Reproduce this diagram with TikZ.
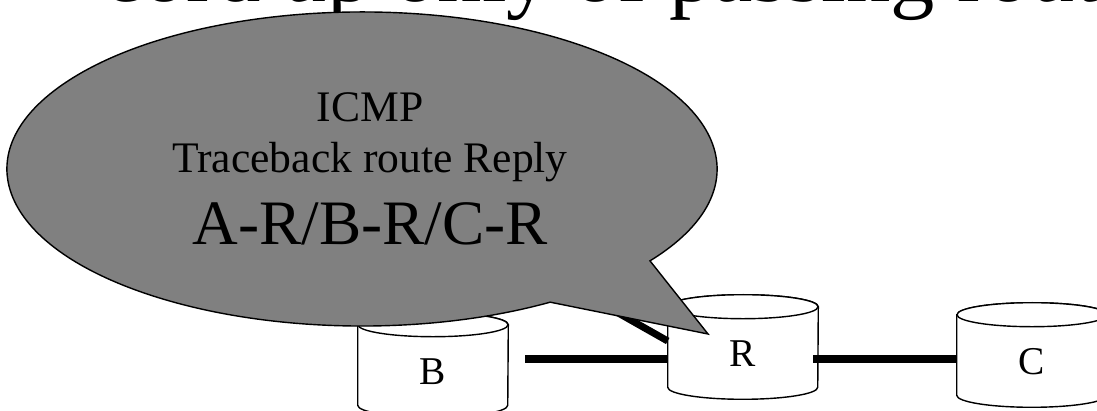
\documentclass[tikz,border=0pt]{standalone}
\usepackage{fontspec}
\setmainfont{Liberation Serif}
\usepackage{tikz}
\usetikzlibrary{calc, backgrounds}
\definecolor{bubbleGray}{RGB}{128, 128, 128}
\definecolor{wireBlack}{RGB}{0, 0, 0}

\begin{document}
\begin{tikzpicture}[
    x=0.025cm, y=-0.025cm,
    host/.style={
        rectangle,
        minimum width=3.75cm,
        minimum height=2cm,
        inner sep=0pt,
        text height=0.95cm,
        text depth=0pt,
        font=\fontsize{28pt}{30pt}\selectfont
    },
    hostline/.style={
        draw=black,
        line width=1pt,
        fill=white
    },
    link/.style={
        line width=5pt,
        color=wireBlack
    },
    bubble/.style={
        draw=black,
        line width=1pt,
        fill=bubbleGray
    },
    bubbletext/.style={
        anchor=base,
        inner sep=0pt,
        font=\fontsize{31pt}{33pt}\selectfont
    }
]
\useasboundingbox (0,0) rectangle (1097,411);

% Title, cut off by the frame
\node[anchor=base west, inner sep=0pt, font=\fontsize{63pt}{65pt}\selectfont] (title) at (103,2) {cord up only of passing routers};

% Routers
\node[host] (B) at (433,365) {B};
\node[host] (R) at (743,347) {R};
\node[host] (C) at (1032,355) {C};

\begin{scope}[on background layer]
\foreach \n in {B,R,C} {
    \draw[hostline] (\n.north west) -- (\n.south west)
        arc[start angle=180, end angle=360, x radius=1.875cm, y radius=0.3cm]
        -- (\n.north east)
        arc[start angle=0, end angle=180, x radius=1.875cm, y radius=0.3cm] -- cycle;
    \draw[hostline] (\n.north) ellipse [x radius=1.875cm, y radius=0.3cm];
}
\end{scope}

% Links
\coordinate (wire) at (0,359);
\coordinate (toA) at (560,280);
\draw[link] ([xshift=0.425cm]B.east |- wire) -- (R.west |- wire);
\draw[link] ([xshift=-0.125cm]R.east |- wire) -- (C.west |- wire);
\draw[link] ([yshift=0.15cm]R.west) -- (toA);

% Callout
\coordinate (bubbleCenter) at (362,169);
\coordinate (tip) at (708,334);
\draw[bubble] (tip) -- ($(bubbleCenter)+(-35.8:8.875cm and 3.925cm)$)
    arc[start angle=-35.8, end angle=302, x radius=8.875cm, y radius=3.925cm] -- cycle;

\node[bubbletext] (icmp) at (370,122) {ICMP};
\node[bubbletext] (reply) at (370,173) {Traceback route Reply};
\node[bubbletext, font=\fontsize{45pt}{47pt}\selectfont] (route) at (370,245) {A-R/B-R/C-R};

\end{tikzpicture}
\end{document}
